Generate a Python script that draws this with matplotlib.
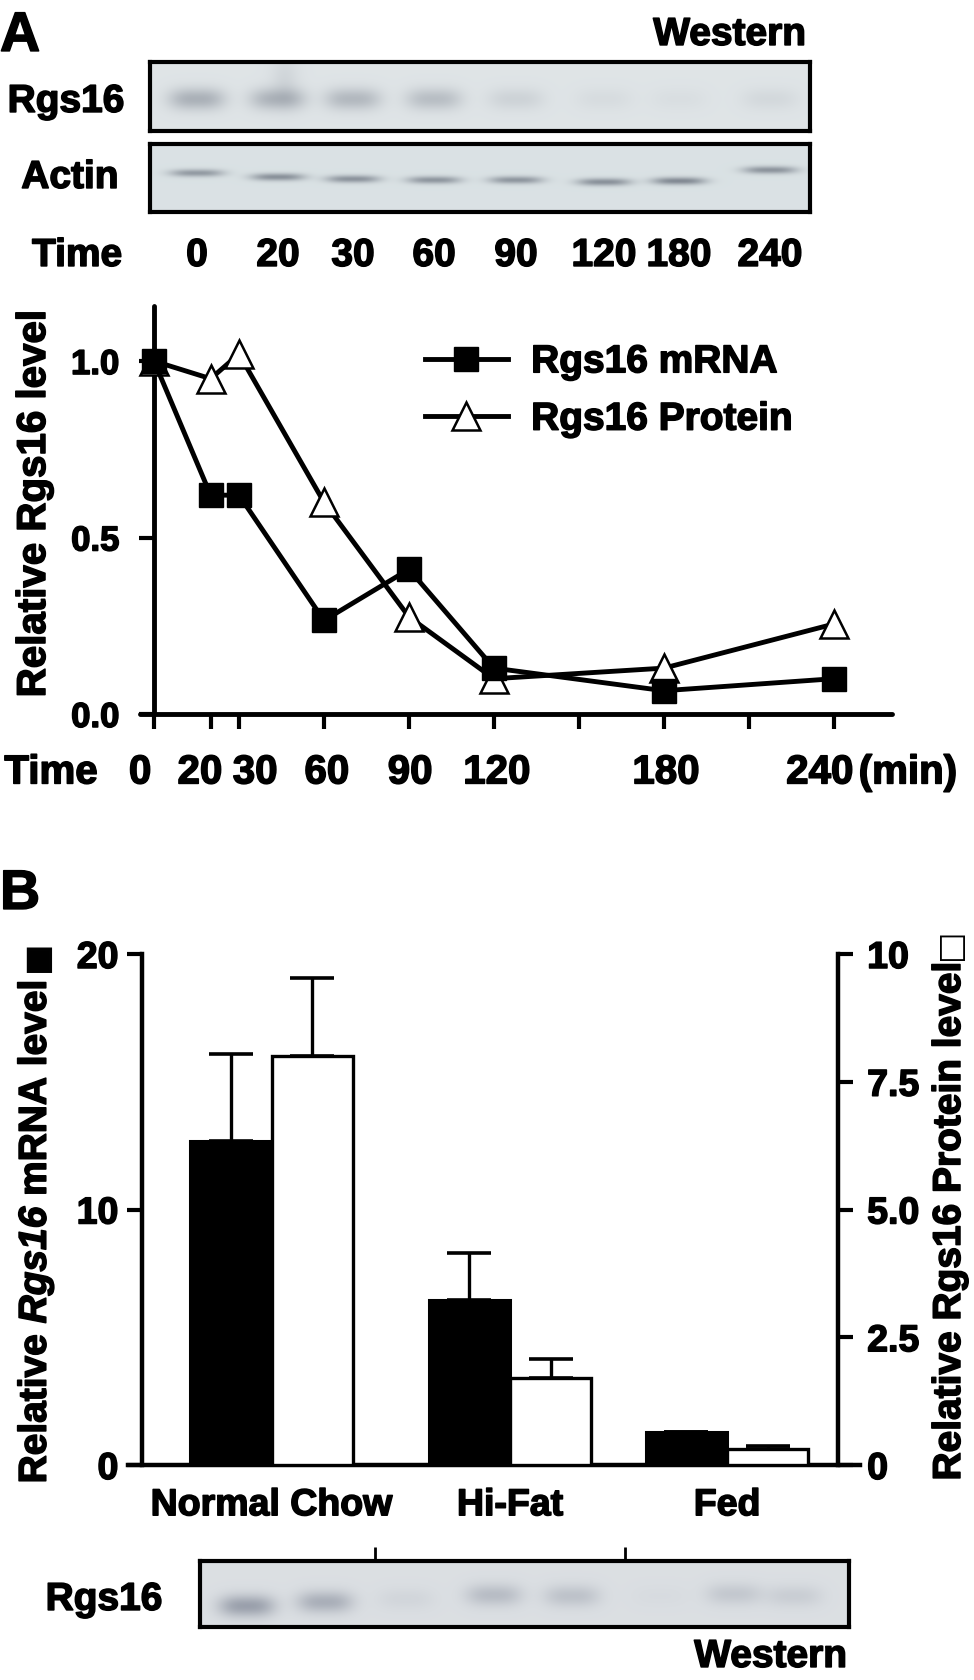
import numpy as np
import matplotlib
matplotlib.use('Agg')
import matplotlib.pyplot as plt
from matplotlib import transforms, patheffects
from matplotlib.lines import Line2D
from matplotlib.text import Text

plt.rcParams['font.family'] = ['Liberation Sans', 'DejaVu Sans']
plt.rcParams['font.weight'] = 'bold'
plt.rcParams['mathtext.fontset'] = 'custom'
plt.rcParams['mathtext.it'] = 'Liberation Sans:italic:bold'
plt.rcParams['mathtext.rm'] = 'Liberation Sans:italic:bold'

W, H = 974, 1681

# ---- panel A data
time_min = [0, 20, 30, 60, 90, 120, 180, 240]
mrna = [1.0, 0.62, 0.62, 0.265, 0.41, 0.13, 0.066, 0.10]
protein = [1.0, 0.95, 1.02, 0.60, 0.275, 0.10, 0.13, 0.255]
xticks_a = [0, 20, 30, 60, 90, 120, 150, 180, 210, 240]
yticks_a = [0.0, 0.5, 1.0]
ytick_labels_a = ['0.0', '0.5', '1.0']
# where the time labels sit under the axis (minutes)
time_label_x = [-4.9, 16.2, 35.7, 61, 90.4, 121, 180.7, 235]

# western blot lanes, panel A (pixel x of lane centres)
lane_x_a = [197, 278, 353, 434, 516, 604, 679, 770]
rgs16_band = [0.45, 0.42, 0.38, 0.33, 0.15, 0.07, 0.05, 0.10]
actin_band = [0.55, 0.62, 0.60, 0.58, 0.58, 0.62, 0.68, 0.60]
actin_y = [174, 178, 180, 181, 181, 183, 182, 171]

# ---- panel B data
groups = ['Normal Chow', 'Hi-Fat', 'Fed']
group_pos = [0, 1, 1.91]
mrna_b = [12.7, 6.45, 1.28]
mrna_b_err = [3.4, 1.85, 0.0]
prot_b = [8.0, 1.70, 0.31]
prot_b_err = [1.53, 0.37, 0.06]
yticks_b2 = [0, 2.5, 5.0, 7.5, 10]
ytick_labels_b2 = ['0', '2.5', '5.0', '7.5', '10']

lane_x_b = [247, 325, 406, 494, 572, 660, 734, 794]
lane_y_b = [1607, 1603, 1600, 1596, 1597, 1597, 1595, 1597]
rgs16_band_b = [0.55, 0.42, 0.08, 0.30, 0.25, 0.03, 0.20, 0.15]
group_sep_px = [375, 625]

fig = plt.figure(figsize=(W / 100, H / 100), dpi=100)


def rect(x0, y0, x1, y1):
    return [x0 / W, 1 - y1 / H, (x1 - x0) / W, (y1 - y0) / H]


def put(x, yc, s, size, ha='center', **kw):
    # yc is the centre of the capitals, in pixels from the top
    em = size * 100 / 72
    fig.text(x / W, 1 - (yc + 0.358 * em) / H, s, fontsize=size, ha=ha,
             va='baseline', fontweight='bold', **kw)


def blot(box, lanes_x, lanes_y, strength, sx, sy, bg, band, extra=None):
    x0, y0, x1, y1 = box
    ax = fig.add_axes(rect(x0, y0, x1, y1))
    xs = np.arange(x0, x1) + 0.5
    ys = np.arange(y0, y1) + 0.5
    X, Y = np.meshgrid(xs, ys)
    d = np.zeros_like(X)
    for xc, yc, s in zip(lanes_x, lanes_y, strength):
        d += s * np.exp(-(np.abs(X - xc) / sx) ** 3) * np.exp(-((Y - yc) / sy) ** 2)
    if extra:
        for xc, yc, s, ex, ey in extra:
            d += s * np.exp(-((X - xc) / ex) ** 2) * np.exp(-((Y - yc) / ey) ** 2)
    d = np.clip(d, 0, 1)[..., None]
    img = np.array(bg) * (1 - d) + np.array(band) * d
    ax.imshow(img, extent=(x0, x1, y1, y0), aspect='auto', interpolation='bilinear')
    ax.set_xlim(x0, x1)
    ax.set_ylim(y1, y0)
    ax.set_xticks([])
    ax.set_yticks([])
    for sp in ax.spines.values():
        sp.set_linewidth(3)
    return ax


# ================= panel A =================
put(0, 32, 'A', 40, ha='left')
put(806, 32, 'Western', 28, ha='right')

blot((150, 63, 810, 132), lane_x_a, [100] * 8, rgs16_band, 28, 11,
     (0.875, 0.895, 0.905), (0.42, 0.45, 0.50),
     extra=[(285, 80, 0.12, 14, 25)])
blot((150, 145, 810, 213), lane_x_a, actin_y, actin_band, 27, 3.8,
     (0.855, 0.885, 0.895), (0.35, 0.38, 0.43))
put(66, 99, 'Rgs16', 28)
put(70, 175, 'Actin', 28)
put(77, 253, 'Time', 28)
for lx, t in zip(lane_x_a, time_min):
    put(lx, 253, str(t), 28)

ax = fig.add_axes(rect(140, 307, 892, 715))
ax.set_xlim(-4.94, 260.5)
ax.set_ylim(0, 1.156)
ax.spines['left'].set_position(('data', 0))
ax.spines['top'].set_visible(False)
ax.spines['right'].set_visible(False)
for s in ['left', 'bottom']:
    ax.spines[s].set_linewidth(3.5)
    ax.spines[s].set_capstyle('round')
ax.set_xticks(xticks_a)
ax.set_yticks(yticks_a, ytick_labels_a)
ax.tick_params(axis='x', direction='out', length=11, width=3, labelbottom=False)
ax.tick_params(axis='y', direction='out', length=11, width=3, pad=14, labelsize=25)

ax.plot(time_min, protein, '-', color='black', lw=3.5, marker='^', ms=19.5,
        mfc='white', mec='black', mew=1.8, clip_on=False, zorder=3,
        label='Rgs16 Protein')
ax.plot(time_min, mrna, '-', color='black', lw=3.5, marker='s', ms=17,
        mfc='black', mec='black', clip_on=False, zorder=4, label='Rgs16 mRNA')

handles = [Line2D([], [], color='black', lw=3.5, marker='s', ms=17),
           Line2D([], [], color='black', lw=3.5, marker='^', ms=19.5, mfc='white',
                  mec='black', mew=1.8)]
ax.legend(handles, ['Rgs16 mRNA', 'Rgs16 Protein'], loc='center left',
          bbox_to_anchor=(425 / W, 1 - 392 / H), bbox_transform=fig.transFigure,
          frameon=False, fontsize=28, handlelength=2.13, handletextpad=0.6,
          borderpad=0, borderaxespad=0, labelspacing=0.55, numpoints=1)

trans = transforms.blended_transform_factory(ax.transData, fig.transFigure)
em29 = 29 * 100 / 72
for lx, t in zip(time_label_x, time_min):
    ax.text(lx, 1 - (770 + 0.358 * em29) / H, str(t), transform=trans,
            fontsize=29, ha='center', va='baseline', fontweight='bold')
put(51, 770, 'Time', 29)
put(908, 770, '(min)', 29)
fig.text(34 / W, 1 - 505 / H, 'Relative Rgs16 level', rotation=90, fontsize=29,
         ha='center', va='center', fontweight='bold')

# ================= panel B =================
put(0, 890, 'B', 40, ha='left')

axb = fig.add_axes(rect(128, 955, 860, 1466))
axb.set_xlim(-0.6017, 2.4675)
axb.set_ylim(0, 20)
axb.spines['left'].set_position(('data', -0.543))
axb.spines['top'].set_visible(False)
axb.spines['right'].set_visible(False)
for s in ['left', 'bottom']:
    axb.spines[s].set_linewidth(3.2)
axb.set_yticks([0, 10, 20])
axb.tick_params(axis='y', direction='out', length=11, width=3, pad=6, labelsize=27)
axb.set_xticks(group_pos, groups)
axb.tick_params(axis='x', length=0, pad=16, labelsize=27)

gp = np.array(group_pos)
bw = 0.34
axb.bar(gp - bw / 2, mrna_b, width=bw, color='black', edgecolor='black', lw=2.2,
        yerr=[np.zeros(3), mrna_b_err],
        error_kw=dict(ecolor='black', elinewidth=2.4, capsize=16, capthick=2.6))

ax2 = axb.twinx()
ax2.set_ylim(0, 10)
ax2.spines['right'].set_position(('data', 2.3753))
for s in ['left', 'top', 'bottom']:
    ax2.spines[s].set_visible(False)
ax2.spines['right'].set_linewidth(3.2)
ax2.set_yticks(yticks_b2, ytick_labels_b2)
ax2.tick_params(axis='y', direction='out', length=11, width=3, pad=10, labelsize=27)
ax2.bar(gp + bw / 2, prot_b, width=bw, color='white', edgecolor='black', lw=2.4,
        yerr=[np.zeros(3), prot_b_err],
        error_kw=dict(ecolor='black', elinewidth=2.4, capsize=16, capthick=2.6))

fig.text(36 / W, 1 - 1233 / H, r'Relative $\mathit{Rgs16}$ mRNA level',
         rotation=90, fontsize=28, ha='center', va='center', fontweight='bold')
fig.text(36 / W, 1 - 956 / H, '■', rotation=90, fontsize=24, ha='center',
         va='center', family='DejaVu Sans')
fig.text(950 / W, 1 - 1222 / H, 'Relative Rgs16 Protein level',
         rotation=90, fontsize=28, ha='center', va='center', fontweight='bold')
fig.text(949 / W, 1 - 944 / H, '□', rotation=90, fontsize=24, ha='center',
         va='center', family='DejaVu Sans')

bb = blot((200, 1562, 849, 1628), lane_x_b, lane_y_b, rgs16_band_b, 28, 11,
          (0.86, 0.875, 0.89), (0.40, 0.43, 0.50))
bb.vlines(group_sep_px, 1548, 1562, color='black', lw=2, clip_on=False)
put(104, 1597, 'Rgs16', 28)
put(847, 1654, 'Western', 28, ha='right')

# the original lettering is heavier than Liberation Sans Bold
fig.canvas.draw()
for t in fig.findobj(Text):
    if t.get_text() and t.get_text() not in ('■', '□'):
        t.set_path_effects([patheffects.withStroke(linewidth=1.1, foreground='black')])

fig.savefig('out.png', dpi=100)
